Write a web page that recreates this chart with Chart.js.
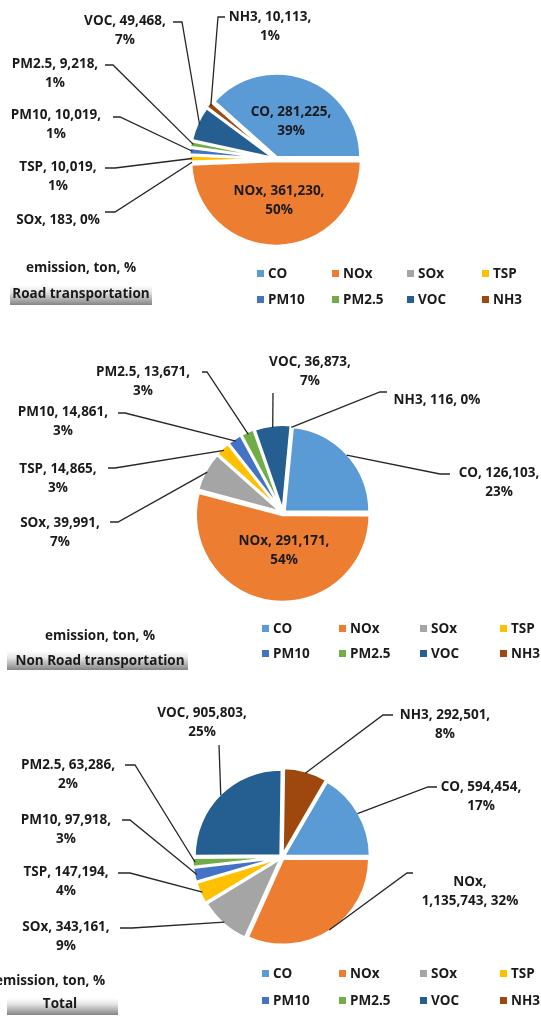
<!DOCTYPE html>
<html>
<head>
<meta charset="utf-8">
<script src="https://cdn.jsdelivr.net/npm/chart.js@4.4.0/dist/chart.umd.min.js"></script>
<style>
  body { margin: 0; background: #fff; }
  #wrap { position: relative; width: 541px; height: 1017px; overflow: hidden;
          font-family: "Open Sans", "Noto Sans", sans-serif; font-weight: bold; color: #1a1a1a; }
  canvas { position: absolute; left: 0; }
  .txt { position: absolute; font-size: 13.5px; white-space: nowrap; transform: translate(-50%, -50%); }
  .bar { position: absolute; background: linear-gradient(to bottom, rgba(255,255,255,0) 0%, #e6e6e6 35%, #858585 100%); }
</style>
</head>
<body>
<div id="wrap">
  <canvas id="road-chart" width="541" height="330" style="top:0"></canvas>
  <canvas id="nonroad-chart" width="541" height="340" style="top:330px"></canvas>
  <canvas id="total-chart" width="541" height="347" style="top:670px"></canvas>

  <div class="bar" style="left:10px;top:285px;width:142px;height:20px"></div>
  <div class="txt" style="left:81px;top:267px">emission, ton, %</div>
  <div class="txt" style="left:81px;top:293px">Road transportation</div>

  <div class="bar" style="left:7px;top:651px;width:181px;height:19px"></div>
  <div class="txt" style="left:100px;top:635px">emission, ton, %</div>
  <div class="txt" style="left:100px;top:660px">Non Road transportation</div>

  <div class="bar" style="left:7px;top:998px;width:111px;height:17px"></div>
  <div class="txt" style="left:50px;top:980px">emission, ton, %</div>
  <div class="txt" style="left:60px;top:1003px">Total</div>
</div>
<script>
const pollutants = ["CO", "NOx", "SOx", "TSP", "PM10", "PM2.5", "VOC", "NH3"];
const colors = ["#5B9BD5", "#ED7D31", "#A5A5A5", "#FFC000", "#4472C4", "#70AD47", "#255E91", "#9E480E"];

const roadValues = [281225, 361230, 183, 10019, 10019, 9218, 49468, 10113];
const roadPercents = [39, 50, 0, 1, 1, 1, 7, 1];

const nonRoadValues = [126103, 291171, 39991, 14865, 14861, 13671, 36873, 116];
const nonRoadPercents = [23, 54, 7, 3, 3, 3, 7, 0];

const totalValues = [594454, 1135743, 343161, 147194, 97918, 63286, 905803, 292501];
const totalPercents = [17, 32, 9, 4, 3, 2, 25, 8];

// label placement, relative to pie centre: text centre, line break mode, leader start points
const roadSpots = [
  { at: [15, -37], wrap: "v" },
  { at: [3, 42], wrap: "v" },
  { at: [-218, 61], wrap: "1", lead: [[-171, 53], [-161, 53]] },
  { at: [-218, 18], wrap: "v", lead: [[-171, 9], [-161, 9]] },
  { at: [-220, -34], wrap: "v", lead: [[-163, -42], [-156, -42]] },
  { at: [-221, -85], wrap: "v", lead: [[-171, -94], [-163, -94]] },
  { at: [-151, -128], wrap: "v", lead: [[-103, -137], [-94, -137]] },
  { at: [-6, -132], wrap: "v", lead: [[-51, -142], [-58, -142]] },
];
const nonRoadSpots = [
  { at: [216, -30], wrap: "v", lead: [[167, -39], [157, -39]] },
  { at: [1, 38], wrap: "v" },
  { at: [-223, 20], wrap: "v", lead: [[-173, 9], [-165, 9]] },
  { at: [-225, -34], wrap: "v", lead: [[-175, -45], [-168, -45]] },
  { at: [-220, -91], wrap: "v", lead: [[-165, -100], [-158, -100]] },
  { at: [-140, -131], wrap: "v", lead: [[-81, -141], [-76, -141]] },
  { at: [27, -141], wrap: "v", lead: [[-10, -120]] },
  { at: [154, -113], wrap: "1", lead: [[104, -121], [97, -121]] },
];
const totalSpots = [
  { at: [199, -60], wrap: "v", lead: [[155, -70], [146, -70]] },
  { at: [188, 35], wrap: "n", lead: [[131, 16], [125, 16]] },
  { at: [-216, 80], wrap: "v", lead: [[-162, 71], [-150, 71]] },
  { at: [-216, 25], wrap: "v", lead: [[-164, 16], [-152, 16]] },
  { at: [-216, -27], wrap: "v", lead: [[-160, -37], [-152, -37]] },
  { at: [-214, -82], wrap: "v", lead: [[-157, -92], [-147, -92]] },
  { at: [-80, -134], wrap: "v", lead: [[-63, -112]] },
  { at: [163, -132], wrap: "v", lead: [[111, -142], [101, -142]] },
];

const FONT = "bold 13.5px 'Open Sans', 'Noto Sans', sans-serif";
const INK = "#1a1a1a";

function fmt(n) {
  return n.toLocaleString("en-US");
}

const pieLabels = {
  id: "pieLabels",
  afterDatasetsDraw(chart, args, opts) {
    const ctx = chart.ctx;
    const meta = chart.getDatasetMeta(0);
    const values = chart.data.datasets[0].data;
    ctx.save();
    ctx.font = FONT;
    ctx.fillStyle = INK;
    ctx.strokeStyle = "#262626";
    ctx.lineWidth = 1.3;
    ctx.textAlign = "center";
    ctx.textBaseline = "middle";
    meta.data.forEach((arc, i) => {
      const p = arc.getProps(["x", "y", "startAngle", "endAngle", "outerRadius"], true);
      const spot = opts.spots[i];
      if (spot.lead) {
        const mid = (p.startAngle + p.endAngle) / 2;
        const r = p.outerRadius + arc.options.offset / 4 - 1;
        ctx.beginPath();
        spot.lead.forEach((pt, k) => {
          if (k === 0) ctx.moveTo(p.x + pt[0], p.y + pt[1]);
          else ctx.lineTo(p.x + pt[0], p.y + pt[1]);
        });
        ctx.lineTo(p.x + Math.cos(mid) * r, p.y + Math.sin(mid) * r);
        ctx.stroke();
      }
      const name = chart.data.labels[i];
      const val = fmt(values[i]);
      const pct = opts.percents[i] + "%";
      let lines;
      if (spot.wrap === "1") lines = [name + ", " + val + ", " + pct];
      else if (spot.wrap === "n") lines = [name + ",", val + ", " + pct];
      else lines = [name + ", " + val + ",", pct];
      lines.forEach((t, k) => {
        ctx.fillText(t, p.x + spot.at[0], p.y + spot.at[1] + (k - (lines.length - 1) / 2) * 19);
      });
    });
    ctx.restore();
  },
  afterDraw(chart, args, opts) {
    const ctx = chart.ctx;
    ctx.save();
    ctx.font = FONT;
    ctx.textAlign = "left";
    ctx.textBaseline = "middle";
    chart.data.labels.forEach((name, i) => {
      const x = opts.legendCols[i % 4];
      const y = opts.legendRows[Math.floor(i / 4)];
      ctx.fillStyle = colors[i];
      ctx.fillRect(x, y - 3, 7, 7);
      ctx.fillStyle = INK;
      ctx.fillText(name, x + 11, y + 1);
    });
    ctx.restore();
  },
};

function createChart(canvasId, values, percents, spots, center, radius, legendRows, legendCols) {
  const canvas = document.getElementById(canvasId);
  const sum = values.reduce((a, b) => a + b, 0);
  const box = 100;
  new Chart(canvas.getContext("2d"), {
    type: "pie",
    data: {
      labels: pollutants,
      datasets: [
        {
          data: values,
          backgroundColor: colors,
          borderColor: "#ffffff",
          borderWidth: 2.5,
          offset: 8,
        },
      ],
    },
    plugins: [pieLabels],
    options: {
      responsive: false,
      animation: false,
      // first slice placed so that CO ends at three o'clock, as in the source
      rotation: 90 - (360 * values[0]) / sum,
      radius: radius,
      layout: {
        padding: {
          left: center[0] - box,
          right: canvas.width - center[0] - box,
          top: center[1] - box,
          bottom: canvas.height - center[1] - box,
        },
      },
      plugins: {
        legend: { display: false },
        tooltip: { enabled: false },
        pieLabels: { spots: spots, percents: percents, legendRows: legendRows, legendCols: legendCols },
      },
    },
  });
}

document.addEventListener("DOMContentLoaded", () => {
  createChart("road-chart", roadValues, roadPercents, roadSpots, [276, 159], 83, [273, 299], [257, 332, 407, 482]);
  createChart("nonroad-chart", nonRoadValues, nonRoadPercents, nonRoadSpots, [283, 183], 85, [298, 323], [262, 339, 420, 500]);
  createChart("total-chart", totalValues, totalPercents, totalSpots, [282, 187], 86, [303, 330], [262, 339, 420, 500]);
});
</script>
</body>
</html>
